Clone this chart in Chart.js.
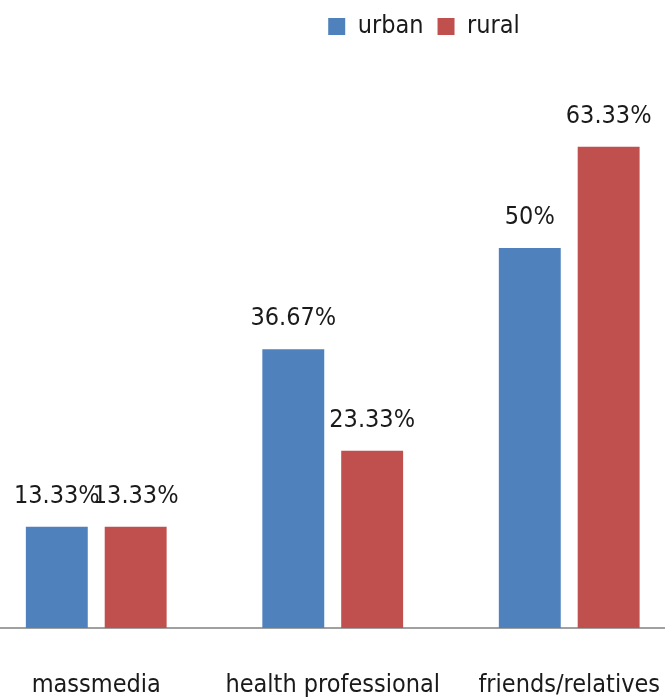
<!DOCTYPE html>
<html>
<head>
<meta charset="utf-8">
<script src="https://cdn.jsdelivr.net/npm/chart.js@4/dist/chart.umd.min.js"></script>
<style>
    body { margin: 0; background: #fff; overflow: hidden; }
    #wrap { position: absolute; left: -22px; top: 0; width: 724px; height: 742px; }
</style>
</head>
<body>
<div id="wrap"><canvas id="sourceChart"></canvas></div>
<script>
const categories = ['massmedia', 'health professional', 'friends/relatives'];
const urbanValues = [13.33, 36.67, 50];
const ruralValues = [13.33, 23.33, 63.33];
const valueLabels = {
    urban: ['13.33%', '36.67%', '50%'],
    rural: ['13.33%', '23.33%', '63.33%']
};

const fontFamily = '"Liberation Sans Narrow", "DejaVu Sans Condensed", "Liberation Sans", sans-serif';

// วาดตัวเลขเหนือแท่งกราฟ
const barLabels = {
    id: 'barLabels',
    afterDatasetsDraw(chart) {
        const ctx = chart.ctx;
        ctx.save();
        ctx.font = '25px ' + fontFamily;
        ctx.fillStyle = '#1a1a1a';
        ctx.textAlign = 'center';
        ctx.textBaseline = 'alphabetic';
        chart.data.datasets.forEach((ds, i) => {
            chart.getDatasetMeta(i).data.forEach((bar, j) => {
                ctx.fillText(ds.labelsText[j], bar.x, bar.y - 24);
            });
        });
        ctx.restore();
    }
};

// เพิ่มระยะใต้ legend และเลื่อน legend ไปทางขวาเหมือนต้นฉบับ
const legendTweak = {
    id: 'legendTweak',
    beforeInit(chart) {
        const fit = chart.legend.fit;
        chart.legend.fit = function () {
            fit.bind(chart.legend)();
            this.height += 47;
        };
    },
    afterLayout(chart) {
        chart.legend.left += 84;
        chart.legend.right += 84;
    }
};

const ctx = document.getElementById('sourceChart').getContext('2d');

new Chart(ctx, {
    type: 'bar',
    data: {
        labels: categories,
        datasets: [{
            label: 'urban',
            data: urbanValues,
            labelsText: valueLabels.urban,
            backgroundColor: '#4F81BD',
            categoryPercentage: 0.667,
            barPercentage: 0.785
        }, {
            label: 'rural',
            data: ruralValues,
            labelsText: valueLabels.rural,
            backgroundColor: '#C0504D',
            categoryPercentage: 0.667,
            barPercentage: 0.785
        }]
    },
    options: {
        responsive: true,
        maintainAspectRatio: false,
        animation: false,
        layout: { padding: 0 },
        scales: {
            x: {
                grid: { display: false, drawTicks: false },
                border: { display: true, color: '#a0a0a0', width: 2 },
                ticks: {
                    padding: 42,
                    maxRotation: 0,
                    minRotation: 0,
                    autoSkip: false,
                    color: '#1a1a1a',
                    font: { family: fontFamily, size: 25 }
                }
            },
            y: {
                display: false,
                min: 0,
                max: 70
            }
        },
        plugins: {
            legend: {
                position: 'top',
                labels: {
                    boxWidth: 17,
                    boxHeight: 17,
                    padding: 14,
                    color: '#1a1a1a',
                    font: { family: fontFamily, size: 25 }
                }
            },
            tooltip: { enabled: false }
        }
    },
    plugins: [barLabels, legendTweak]
});
</script>
</body>
</html>
